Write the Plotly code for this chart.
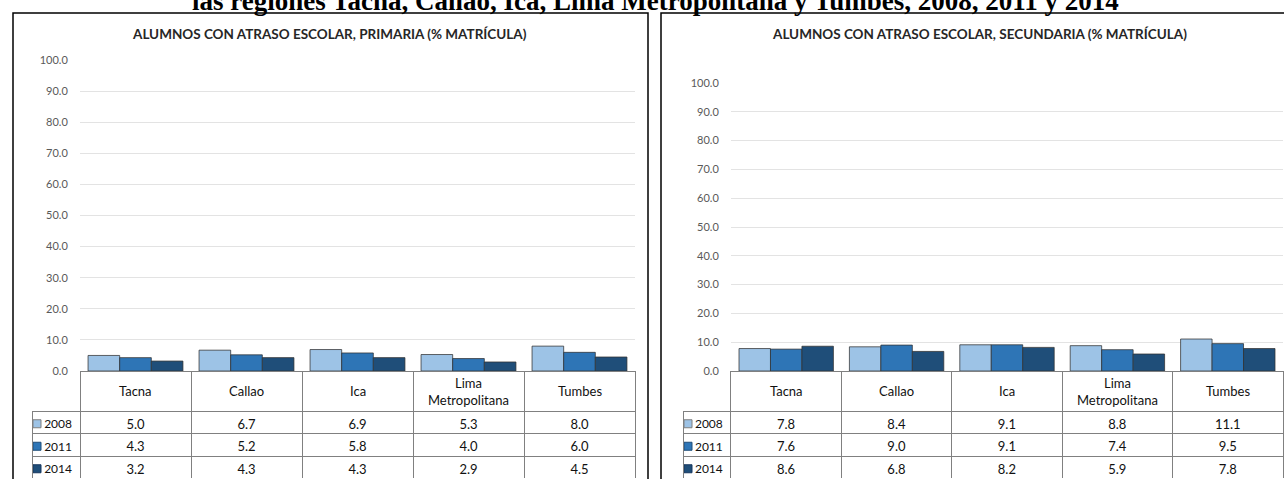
import plotly.graph_objects as go

# ---- data ----
regions = ["Tacna", "Callao", "Ica", "Lima Metropolitana", "Tumbes"]
region_labels = ["Tacna", "Callao", "Ica", "Lima<br>Metropolitana", "Tumbes"]
years = ["2008", "2011", "2014"]
prim_2008 = [5.0, 6.7, 6.9, 5.3, 8.0]
prim_2011 = [4.3, 5.2, 5.8, 4.0, 6.0]
prim_2014 = [3.2, 4.3, 4.3, 2.9, 4.5]
sec_2008 = [7.8, 8.4, 9.1, 8.8, 11.1]
sec_2011 = [7.6, 9.0, 9.1, 7.4, 9.5]
sec_2014 = [8.6, 6.8, 8.2, 5.9, 7.8]
y_ticks = [0, 10, 20, 30, 40, 50, 60, 70, 80, 90, 100]

colors = ["#9DC3E6", "#2E75B6", "#1F4E79"]
swatch_edges = ["#7F7F7F", "#1F4E79", "#17375E"]
W, H = 1284, 479
FONT = "Lato"
HEADER_H, ROW_H = 40, 22.5


def fx(x):
    return x / W


def fy(y):
    return 1 - y / H


fig = go.Figure()

prim = [prim_2008, prim_2011, prim_2014]
sec = [sec_2008, sec_2011, sec_2014]

for yr, vals, c in zip(years, prim, colors):
    fig.add_trace(go.Bar(x=regions, y=vals, name=yr,
                         marker=dict(color=c, line=dict(color="rgba(50,50,50,0.75)", width=1)),
                         xaxis="x", yaxis="y", showlegend=False))
for yr, vals, c in zip(years, sec, colors):
    fig.add_trace(go.Bar(x=regions, y=vals, name=yr,
                         marker=dict(color=c, line=dict(color="rgba(50,50,50,0.75)", width=1)),
                         xaxis="x2", yaxis="y2", showlegend=False))


def table(series, xdom):
    header = [""] * (len(regions) + 1)
    cols = [years]
    for i in range(len(regions)):
        cols.append([f"{s[i]:.1f}" for s in series])
    return go.Table(
        domain=dict(x=xdom, y=[0, fy(371)]),
        columnwidth=[48, 111, 111, 111, 111, 111],
        header=dict(values=header, height=HEADER_H, align="center",
                    fill=dict(color="rgba(0,0,0,0)"),
                    line=dict(color=["rgba(0,0,0,0)"] + ["#808080"] * 5, width=1),
                    font=dict(family=FONT, size=13, color="#111")),
        cells=dict(values=cols, height=ROW_H, align=["right"] + ["center"] * 5,
                   fill=dict(color="rgba(0,0,0,0)"),
                   line=dict(color="#808080", width=1),
                   font=dict(family=FONT, size=[12] + [13] * 5, color="#111")),
    )


fig.add_trace(table(prim, [fx(32), fx(635)]))
fig.add_trace(table(sec, [fx(683), fx(1283)]))

# legend swatches of the data tables (one square per year, on a small overlay axis per table)
for xa, ya in [("x3", "y3"), ("x4", "y4")]:
    fig.add_trace(go.Scatter(x=[0] * len(years), y=years, mode="markers", xaxis=xa, yaxis=ya,
                             marker=dict(symbol="square", size=8, color=colors,
                                         line=dict(color=swatch_edges, width=1)),
                             showlegend=False, hoverinfo="skip"))

axis_common = dict(range=[0, 100], tickvals=y_ticks, tickformat=".1f", showgrid=True, gridcolor="#E3E3E3",
                   gridwidth=1, zeroline=False, showline=False, ticks="outside", ticklen=9,
                   tickcolor="rgba(0,0,0,0)", tickfont=dict(family=FONT, size=11, color="#595959"),
                   fixedrange=True, automargin=False)
xaxis_common = dict(type="category", showticklabels=False, showgrid=False, zeroline=False, showline=False,
                    range=[-0.5, 4.5], fixedrange=True, automargin=False)
rows_top = 371 + HEADER_H
rows_bottom = rows_top + ROW_H * len(years)
nudge = 1.5 / ROW_H  # small downward nudge so squares sit on the text's centre line
sw_y = dict(type="category", visible=False, range=[len(years) - 0.5 - nudge, -0.5 - nudge], fixedrange=True,
            domain=[fy(rows_bottom), fy(rows_top)])

annotations = [
    dict(text="<b>las regiones Tacna, Callao, Ica, Lima Metropolitana y Tumbes, 2008, 2011 y 2014</b>",
         x=fx(655), y=fy(17), xref="paper", yref="paper", xanchor="center", yanchor="bottom",
         showarrow=False, font=dict(family="Liberation Serif", size=27, color="black"), borderpad=0),
    dict(text="<b>ALUMNOS CON ATRASO ESCOLAR, PRIMARIA (% MATRÍCULA)</b>",
         x=fx(330), y=fy(34), xref="paper", yref="paper", xanchor="center", yanchor="middle",
         showarrow=False, font=dict(family=FONT, size=13.5, color="#262626")),
    dict(text="<b>ALUMNOS CON ATRASO ESCOLAR, SECUNDARIA (% MATRÍCULA)</b>",
         x=fx(979), y=fy(34), xref="paper", yref="paper", xanchor="center", yanchor="middle",
         showarrow=False, font=dict(family=FONT, size=13.5, color="#262626")),
]
# category header labels of the data tables, placed on each chart's category axis
for xref in ["x", "x2"]:
    for reg, lab in zip(regions, region_labels):
        annotations.append(dict(text=lab, x=reg, xref=xref, y=fy(391), yref="paper",
                                xanchor="center", yanchor="middle", showarrow=False,
                                font=dict(family=FONT, size=13, color="#111")))

fig.update_layout(
    width=W, height=H,
    autosize=False,
    margin=dict(l=0, r=0, t=0, b=0, pad=0, autoexpand=False),
    paper_bgcolor="white", plot_bgcolor="rgba(0,0,0,0)",
    barmode="group", bargap=0.145, bargroupgap=0,
    xaxis=dict(domain=[fx(80), fx(635)], anchor="y", **xaxis_common),
    yaxis=dict(domain=[fy(371), fy(60)], anchor="x", **axis_common),
    xaxis2=dict(domain=[fx(731), fx(1283)], anchor="y2", **xaxis_common),
    yaxis2=dict(domain=[fy(371), fy(83)], anchor="x2", **axis_common),
    xaxis3=dict(domain=[fx(32), fx(80)], range=[-5, 43], visible=False, fixedrange=True, anchor="y3"),
    yaxis3=dict(anchor="x3", **sw_y),
    xaxis4=dict(domain=[fx(683), fx(731)], range=[-5, 43], visible=False, fixedrange=True, anchor="y4"),
    yaxis4=dict(anchor="x4", **sw_y),
    shapes=[
        dict(type="rect", xref="paper", yref="paper", x0=fx(13), x1=fx(648), y0=-0.1, y1=fy(13),
             line=dict(color="black", width=1.5), layer="above"),
        dict(type="rect", xref="paper", yref="paper", x0=fx(661), x1=1.05, y0=-0.1, y1=fy(13),
             line=dict(color="black", width=1.5), layer="above"),
    ],
    annotations=annotations,
)

fig.write_html("out.html", config={"responsive": False, "displayModeBar": False},
               post_script="document.body.style.margin='0';document.body.style.overflow='hidden';")
